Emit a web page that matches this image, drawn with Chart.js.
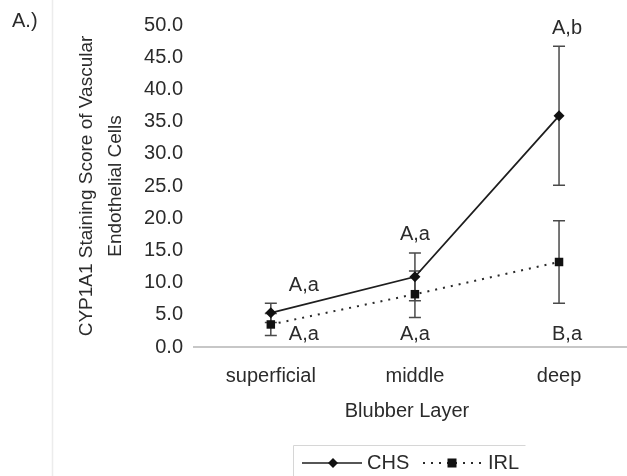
<!DOCTYPE html>
<html>
<head>
<meta charset="utf-8">
<script src="https://cdn.jsdelivr.net/npm/chart.js@4"></script>
<style>
  html, body { margin: 0; padding: 0; background: #fff; overflow: hidden; }
  #wrap { position: relative; width: 627px; height: 476px; }
</style>
</head>
<body>
<div id="wrap"><canvas id="cyp-chart"></canvas></div>
<script>
// blubber layers on the x axis
const layers = ["superficial", "middle", "deep"];

// mean staining score and error
const chsMean = [5.3, 10.9, 35.9];
const chsErr = [1.5, 3.7, 10.8];
const irlMean = [3.5, 8.2, 13.2];
const irlErr = [1.7, 3.6, 6.4];

// significance letters
const chsLetters = ["A,a", "A,a", "A,b"];
const irlLetters = ["A,a", "A,a", "B,a"];

const yMin = 0, yMax = 50, yStep = 5;

const TEXT = "#2b2b2b";
const FONT = '"Liberation Sans", Arial, sans-serif';
Chart.defaults.font.family = FONT;
Chart.defaults.font.size = 20;
Chart.defaults.color = TEXT;

const errorBars = {
  id: "errorBars",
  beforeDatasetsDraw(chart) {
    const { ctx, scales: { x, y } } = chart;
    const sets = [[chsMean, chsErr], [irlMean, irlErr]];
    ctx.save();
    ctx.strokeStyle = "#4a4a4a";
    ctx.lineWidth = 1.5;
    sets.forEach(([m, e]) => {
      m.forEach((v, i) => {
        const px = x.getPixelForValue(i);
        const top = y.getPixelForValue(v + e[i]);
        const bot = y.getPixelForValue(v - e[i]);
        ctx.beginPath();
        ctx.moveTo(px, top); ctx.lineTo(px, bot);
        ctx.moveTo(px - 6, top); ctx.lineTo(px + 6, top);
        ctx.moveTo(px - 6, bot); ctx.lineTo(px + 6, bot);
        ctx.stroke();
      });
    });
    ctx.restore();
  }
};

const extras = {
  id: "extras",
  beforeDraw(chart) {
    const ctx = chart.ctx;
    ctx.save();
    ctx.strokeStyle = "#ececec";
    ctx.lineWidth = 1.5;
    ctx.beginPath();
    ctx.moveTo(52.5, 0); ctx.lineTo(52.5, chart.height);
    ctx.stroke();
    ctx.restore();
  },
  beforeDatasetsDraw(chart) {
    // x axis line, running out to the right edge
    const { ctx, chartArea, scales: { y } } = chart;
    const ay = y.getPixelForValue(0);
    ctx.save();
    ctx.strokeStyle = "#b4b4b4";
    ctx.lineWidth = 1.5;
    ctx.beginPath();
    ctx.moveTo(chartArea.left, ay); ctx.lineTo(chart.width, ay);
    ctx.stroke();
    ctx.restore();
  },
  afterDraw(chart) {
    const { ctx, scales: { x, y } } = chart;
    ctx.save();
    ctx.fillStyle = TEXT;
    ctx.font = "20px " + FONT;
    ctx.textAlign = "left";
    ctx.textBaseline = "middle";
    ctx.fillText("A.)", 12, 21);

    // letters
    ctx.textAlign = "center";
    const chsDx = [33, 0, 8];
    const irlDx = [33, 0, 8];
    chsLetters.forEach((t, i) => {
      const px = x.getPixelForValue(i) + chsDx[i];
      const py = y.getPixelForValue(chsMean[i] + chsErr[i]) - 18;
      ctx.fillText(t, px, py);
    });
    irlLetters.forEach((t, i) => {
      const px = x.getPixelForValue(i) + irlDx[i];
      ctx.fillText(t, px, y.getPixelForValue(0) - 13);
    });

    // legend box
    ctx.strokeStyle = "#d6d6d6";
    ctx.lineWidth = 1;
    ctx.beginPath();
    ctx.moveTo(293.5, chart.height); ctx.lineTo(293.5, 445.5); ctx.lineTo(525.5, 445.5);
    ctx.stroke();

    const ly = 463;
    const ds = chart.data.datasets;
    // CHS
    ctx.strokeStyle = ds[0].borderColor;
    ctx.lineWidth = 1.5;
    ctx.setLineDash([]);
    ctx.beginPath(); ctx.moveTo(302, ly); ctx.lineTo(362, ly); ctx.stroke();
    ctx.fillStyle = ds[0].backgroundColor;
    ctx.beginPath();
    ctx.moveTo(333, ly - 5); ctx.lineTo(338, ly); ctx.lineTo(333, ly + 5); ctx.lineTo(328, ly);
    ctx.closePath(); ctx.fill();
    ctx.fillStyle = TEXT;
    ctx.textAlign = "left";
    ctx.fillText(ds[0].label, 367, ly);
    // IRL
    ctx.strokeStyle = ds[1].borderColor;
    ctx.lineWidth = 2;
    ctx.setLineDash([2, 6]);
    ctx.beginPath(); ctx.moveTo(423, ly); ctx.lineTo(482, ly); ctx.stroke();
    ctx.setLineDash([]);
    ctx.fillStyle = ds[1].backgroundColor;
    ctx.fillRect(447.5, ly - 4.5, 9, 9);
    ctx.fillStyle = TEXT;
    ctx.fillText(ds[1].label, 488, ly);
    ctx.restore();
  }
};

const config = {
  type: "line",
  data: {
    datasets: [
      {
        label: "CHS",
        data: chsMean.map((v, i) => ({ x: i, y: v })),
        borderColor: "#1e1e1e",
        backgroundColor: "#111",
        borderWidth: 1.8,
        pointStyle: "rectRot",
        pointRadius: 5.5,
        pointBorderWidth: 0,
      },
      {
        label: "IRL",
        data: irlMean.map((v, i) => ({ x: i, y: v })),
        borderColor: "#2a2a2a",
        backgroundColor: "#111",
        borderWidth: 2,
        borderDash: [2, 6],
        pointStyle: "rect",
        pointRadius: 6,
        pointBorderWidth: 0,
      },
    ],
  },
  options: {
    responsive: true,
    maintainAspectRatio: false,
    animation: false,
    layout: { padding: { left: 60, top: 25, right: 0, bottom: 53 } },
    plugins: { legend: { display: false }, tooltip: { enabled: false } },
    scales: {
      x: {
        type: "linear",
        min: -0.54,
        max: 2.43,
        afterBuildTicks: (s) => { s.ticks = layers.map((_, i) => ({ value: i })); },
        ticks: { padding: 17, callback: (v) => layers[v] },
        grid: { display: false, drawTicks: false },
        border: { display: false },
        title: { display: true, text: "Blubber Layer", padding: { top: -6, bottom: 0 } },
      },
      y: {
        min: yMin,
        max: yMax,
        afterFit: (s) => { s.width = 133; },
        ticks: { stepSize: yStep, padding: 10, callback: (v) => v.toFixed(1) },
        grid: { display: false, drawTicks: false },
        border: { display: false },
        title: {
          display: true,
          text: ["CYP1A1 Staining Score of Vascular", "Endothelial Cells"],
          font: { size: 19, lineHeight: 1.55 },
          padding: { top: 12, bottom: 0 },
        },
      },
    },
  },
  plugins: [errorBars, extras],
};

const ctx = document.getElementById("cyp-chart").getContext("2d");
window.cypChart = new Chart(ctx, config);
</script>
</body>
</html>
